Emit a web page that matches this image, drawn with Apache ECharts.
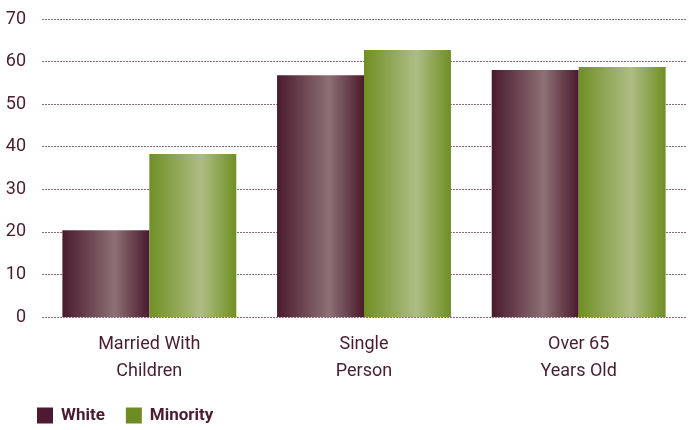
<!DOCTYPE html>
<html><head><meta charset="utf-8">
<script src="https://cdn.jsdelivr.net/npm/echarts@6/dist/echarts.min.js"></script>
<style>html,body{margin:0;padding:0;background:#fff}#c{width:689px;height:430px}</style>
</head><body><div id="c"></div>
<script>
const categories = ['Married With\nChildren', 'Single\nPerson', 'Over 65\nYears Old'];
const whiteValues = [20.4, 56.8, 58.0];
const minorityValues = [38.3, 62.7, 58.7];
const seriesNames = ['White', 'Minority'];

const FONT = 'Roboto, "Liberation Sans Narrow", sans-serif';
const TXT = '#4b1c30';
const chart = echarts.init(document.getElementById('c'));
function grad(edge, mid) {
  return new echarts.graphic.LinearGradient(0, 0, 1, 0, [
    {offset: 0, color: edge}, {offset: 0.6, color: mid}, {offset: 1, color: edge}
  ]);
}
chart.setOption({
  animation: false,
  grid: {left: 42, right: 3, top: 19, bottom: 113},
  legend: {
    left: 32, top: 402, itemWidth: 16, itemHeight: 16, itemGap: 21,
    icon: 'rect',
    textStyle: {color: TXT, fontFamily: FONT, fontWeight: 'bold', fontSize: 17, padding: [0, 0, 0, 3]},
    data: [
      {name: seriesNames[0], itemStyle: {color: '#4e1a31'}},
      {name: seriesNames[1], itemStyle: {color: '#6e8c23'}}
    ]
  },
  xAxis: {
    type: 'category', data: categories,
    axisLine: {show: false}, axisTick: {show: false},
    axisLabel: {color: TXT, fontFamily: FONT, fontSize: 18, lineHeight: 27, margin: 14}
  },
  yAxis: {
    type: 'value', min: 0, max: 70, interval: 10,
    axisLine: {show: false}, axisTick: {show: false},
    axisLabel: {color: TXT, fontFamily: FONT, fontSize: 18, margin: 16},
    splitLine: {lineStyle: {type: [2, 1], color: '#8a6a75', width: 1}}
  },
  series: [
    {name: seriesNames[0], type: 'bar', data: whiteValues, barGap: '0%', barCategoryGap: '19%',
     itemStyle: {color: grad('#4a1a2e', '#8d7075')}},
    {name: seriesNames[1], type: 'bar', data: minorityValues,
     itemStyle: {color: grad('#6f8f24', '#adbd85')}}
  ]
});
</script></body></html>
